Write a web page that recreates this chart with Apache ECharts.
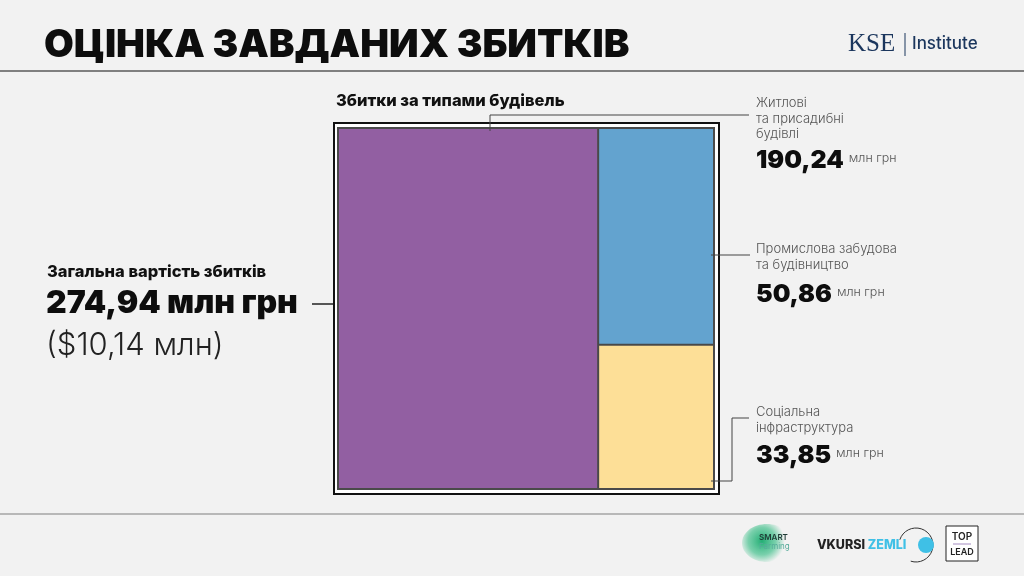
<!DOCTYPE html>
<html><head><meta charset="utf-8">
<script src="https://cdn.jsdelivr.net/npm/echarts@6/dist/echarts.min.js"></script>
<style>html,body{margin:0;padding:0;background:#f2f2f2}#c{width:1024px;height:576px}</style>
</head><body><div id="c"></div>
<script>
const title = 'ОЦІНКА ЗАВДАНИХ ЗБИТКІВ';
const subtitle = 'Збитки за типами будівель';
const categories = ['Житлові\nта присадибні\nбудівлі', 'Промислова забудова\nта будівництво', 'Соціальна\nінфраструктура'];
const values = [190.24, 50.86, 33.85];
const unit = 'млн грн';
const totalLabel = 'Загальна вартість збитків';
const totalUAH = 274.94;
const totalUSD = 10.14;

const palette = ['#925fa2', '#63a3cf', '#fddf97'];
const fmt = v => v.toFixed(2).replace('.', ',');
const F = 'Inter, "Noto Sans", sans-serif';

// positions of the right-hand annotations
const annot = [
  {x:756, y:103, ny:160, leader:[[490,131],[490,115],[749,115]]},
  {x:756, y:249, ny:294, leader:[[711,255],[750,255]]},
  {x:756, y:412, ny:455, leader:[[711,481],[732,481],[732,418],[749,418]]}
];

const chart = echarts.init(document.getElementById('c'));
const g = [];
function txt(x, y, text, font, fill, extra) {
  g.push(Object.assign({type:'text', x:x, y:y, z:10, style:Object.assign({text:text, font:font, fill:fill, textAlign:'left', textVerticalAlign:'middle', align:'left', verticalAlign:'middle'}, extra||{})}));
}
function line(pts, stroke, w) {
  g.push({type:'polyline', z:10, shape:{points:pts}, style:{stroke:stroke, lineWidth:w, fill:null}});
}
// header
txt(44, 45, title, '900 38.5px ' + F, '#0d0d0d');
line([[0,71],[1024,71]], '#5a5a5a', 1.5);
txt(848, 44, 'KSE', '400 25px "Liberation Serif", serif', '#1b365d');
line([[905,33],[905,56]], '#1b365d', 1);
txt(912, 44, 'Institute', '500 17px ' + F, '#1b365d');
// footer
line([[0,514],[1024,514]], '#b8b8b8', 2);
g.push({type:'ellipse', z:5, shape:{cx:767, cy:543, rx:25, ry:19}, style:{fill:new echarts.graphic.RadialGradient(0.4,0.45,0.6,[{offset:0,color:'rgba(25,170,110,0.95)'},{offset:0.6,color:'rgba(40,185,125,0.6)'},{offset:1,color:'rgba(40,185,125,0)'}])}});
txt(759, 538, 'SMART', '600 8px ' + F, '#1e3b35');
txt(759, 547, 'Farming', '400 8px ' + F, '#5a9');
txt(817, 545, '{a|VKURSI} {b|ZEMLI}', '800 12.5px ' + F, '#222', {rich:{a:{font:'800 12.5px ' + F, fill:'#222'}, b:{font:'800 12.5px ' + F, fill:'#3fc0e6'}}});
g.push({type:'arc', z:10, shape:{cx:916, cy:545, r:17, startAngle:Math.PI*1.1, endAngle:Math.PI*0.6, clockwise:true}, style:{stroke:'#333', lineWidth:1, fill:null}});
g.push({type:'circle', z:10, shape:{cx:926, cy:545, r:8}, style:{fill:'#3fc0e6'}});
g.push({type:'rect', z:10, shape:{x:946, y:526, width:32, height:35}, style:{fill:'#fff', stroke:'#222', lineWidth:1}});
txt(962, 537, 'TOP', '600 10px ' + F, '#222', {textAlign:'center', align:'center'});
line([[953,544],[971,544]], '#a38bc0', 1);
txt(962, 552, 'LEAD', '600 9px ' + F, '#222', {textAlign:'center', align:'center'});
// left total
txt(47, 272, totalLabel, '800 16.5px ' + F, '#111');
txt(46, 303, fmt(totalUAH) + ' ' + unit, '900 32px ' + F, '#0d0d0d');
txt(46, 346, '($' + fmt(totalUSD) + ' млн)', '300 31px ' + F, '#222');
line([[312,304],[333,304]], '#222', 1.5);
// subtitle + frame
txt(336, 101, subtitle, '800 16.5px ' + F, '#111');
g.push({type:'rect', z:0, shape:{x:334, y:123, width:385, height:371}, style:{fill:'#fff', stroke:'#111', lineWidth:2}});
// annotations
categories.forEach((c, i) => {
  const a = annot[i];
  txt(a.x, a.y - 7.5, c, '300 13px ' + F, '#555', {textVerticalAlign:'top', verticalAlign:'top', lineHeight:15.5});
  txt(a.x, a.ny, '{n|' + fmt(values[i]) + '} {u|' + unit + '}', '900 25px ' + F, '#0d0d0d',
      {rich:{n:{font:'900 25px ' + F, fill:'#0d0d0d'}, u:{font:'300 12.5px ' + F, fill:'#555', padding:[0,0,3,0]}}});
  line(a.leader, '#444', 1);
});

chart.setOption({
  backgroundColor:'#f2f2f2',
  animation:false,
  graphic:g,
  series:[{
    type:'treemap', left:337, top:127, width:378, height:363,
    roam:false, nodeClick:false, breadcrumb:{show:false},
    label:{show:false}, upperLabel:{show:false}, silent:true,
    itemStyle:{borderColor:'#4a4a4a', borderWidth:1, gapWidth:0},
    emphasis:{disabled:true},
    data: categories.map((c, i) => ({name:c, value:values[i], itemStyle:{color:palette[i]}}))
  }]
});
</script></body></html>
